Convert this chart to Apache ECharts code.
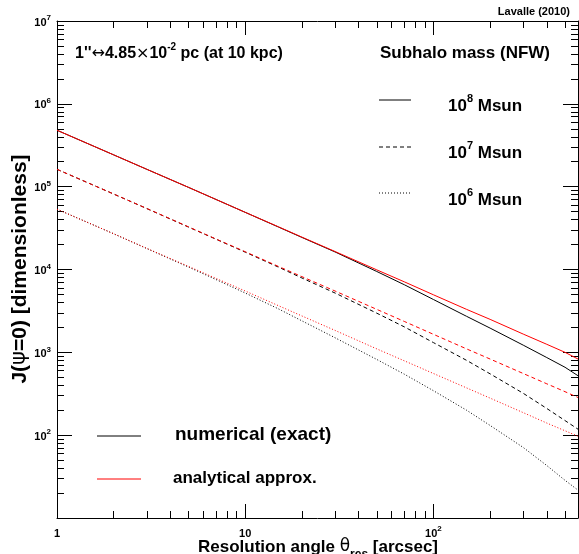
<!DOCTYPE html>
<html><head><meta charset="utf-8">
<script src="https://cdn.jsdelivr.net/npm/echarts@6/dist/echarts.min.js"></script>
<style>html,body{margin:0;padding:0;background:#fff}#c{width:579px;height:554px}</style>
</head><body><div id="c"></div>
<script>
const theta = [1, 2, 3, 5, 7, 10, 15, 20, 30, 50, 70, 100, 150, 200, 300, 400, 500, 586];
const num8 = [4.8e5, 2.42e5, 1.62e5, 9.8e4, 7.0e4, 4.9e4, 3.26e4, 2.44e4, 1.63e4, 9.46e3, 6.55e3, 4.34e3, 2.72e3, 1.96e3, 1.22e3, 8.65e2, 6.6e2, 5.22e2];
const ana8 = [4.8e5, 2.42e5, 1.62e5, 9.8e4, 7.0e4, 4.9e4, 3.28e4, 2.46e4, 1.65e4, 9.9e3, 7.1e3, 4.95e3, 3.3e3, 2.5e3, 1.66e3, 1.25e3, 1.0e3, 8.3e2];
const num7 = [1.62e5, 8.15e4, 5.44e4, 3.25e4, 2.32e4, 1.62e4, 1.07e4, 7.9e3, 5.2e3, 2.97e3, 2.03e3, 1.31e3, 8.0e2, 5.5e2, 3.2e2, 2.1e2, 1.5e2, 1.18e2];
const ana7 = [1.62e5, 8.15e4, 5.45e4, 3.27e4, 2.33e4, 1.64e4, 1.09e4, 8.2e3, 5.5e3, 3.3e3, 2.36e3, 1.65e3, 1.1e3, 8.3e2, 5.55e2, 4.17e2, 3.35e2, 2.85e2];
const num6 = [5.35e4, 2.7e4, 1.79e4, 1.07e4, 7.55e3, 5.2e3, 3.35e3, 2.4e3, 1.5e3, 8.2e2, 5.45e2, 3.44e2, 2.0e2, 1.31e2, 7.1e1, 4.3e1, 2.85e1, 2.17e1];
const ana6 = [5.35e4, 2.7e4, 1.8e4, 1.09e4, 7.8e3, 5.5e3, 3.66e3, 2.75e3, 1.84e3, 1.1e3, 7.9e2, 5.55e2, 3.72e2, 2.8e2, 1.87e2, 1.4e2, 1.13e2, 9.7e1];
const xMajor = [1, 10, 100];
const xMinor = [2,3,4,5,6,7,8,9,20,30,40,50,60,70,80,90,200,300,400,500];
const yMajor = [10, 100, 1e3, 1e4, 1e5, 1e6, 1e7];
const yMinor = [20,30,40,50,60,70,80,90,200,300,400,500,600,700,800,900,2e3,3e3,4e3,5e3,6e3,7e3,8e3,9e3,2e4,3e4,4e4,5e4,6e4,7e4,8e4,9e4,2e5,3e5,4e5,5e5,6e5,7e5,8e5,9e5,2e6,3e6,4e6,5e6,6e6,7e6,8e6,9e6];
const xLabels = [1, 10, 100];
const yLabels = [100, 1e3, 1e4, 1e5, 1e6, 1e7];

const FF = '"Liberation Sans", Arial, Helvetica, sans-serif';
const BLK = '#000';
const RED = '#ff0000';
const DASH = [4, 3];
const DOT = [1, 2];

function pow10Label(v) {
  const e = Math.round(Math.log10(v));
  if (e === 0) return '{b|1}';
  if (e === 1) return '{b|10}';
  return '{b|10}{s|' + e + '}';
}
const labRich = {
  b: {fontFamily: FF, fontWeight: 'bold', fontSize: 11, color: BLK, lineHeight: 14, verticalAlign: 'bottom'},
  s: {fontFamily: FF, fontWeight: 'bold', fontSize: 8, color: BLK, lineHeight: 14, verticalAlign: 'top'}
};

function xAx(pos, vals, len, showLine, labels) {
  return {
    type: 'log', logBase: 10, min: 1, max: 586, position: pos,
    axisLine: {show: showLine, onZero: false, lineStyle: {color: BLK, width: 1}},
    axisTick: {show: true, inside: true, length: len, customValues: vals, lineStyle: {color: BLK, width: 1}},
    axisLabel: labels ? {show: true, customValues: labels, formatter: pow10Label, rich: labRich, margin: 7} : {show: false},
    splitLine: {show: false}, minorTick: {show: false}
  };
}
function yAx(pos, vals, len, showLine, labels) {
  return {
    type: 'log', logBase: 10, min: 10, max: 1e7, position: pos,
    axisLine: {show: showLine, onZero: false, lineStyle: {color: BLK, width: 1}},
    axisTick: {show: true, inside: true, length: len, customValues: vals, lineStyle: {color: BLK, width: 1}},
    axisLabel: labels ? {show: true, customValues: labels, formatter: pow10Label, rich: labRich, margin: 6} : {show: false},
    splitLine: {show: false}, minorTick: {show: false}
  };
}
function mk(arr) { return theta.map((t, i) => [t, arr[i]]); }
function ser(name, arr, color, dash) {
  return {
    name, type: 'line', xAxisIndex: 0, yAxisIndex: 0, data: mk(arr),
    showSymbol: false, symbol: 'none', smooth: false, clip: true,
    lineStyle: {color, width: 1, type: dash || 'solid'}, silent: true
  };
}

const txt = (x, y, text, size, align, extra) => Object.assign({
  type: 'text', x, y, silent: true,
  style: {text, fill: BLK, font: 'bold ' + size + 'px ' + FF, align: align || 'left', verticalAlign: 'middle'}
}, extra || {});
function richTxt(x, y, text, size, align, supSize, rot) {
  const el = {
    type: 'text', x, y, silent: true,
    style: {
      text, align: align || 'left', verticalAlign: 'middle',
      rich: {
        b: {fontFamily: FF, fontWeight: 'bold', fontSize: size, fill: BLK, lineHeight: size + 4, verticalAlign: 'bottom'},
        g: {fontFamily: '"DejaVu Sans", sans-serif', fontWeight: 'normal', fontSize: size, fill: BLK, lineHeight: size + 4, verticalAlign: 'bottom'},
        s: {fontFamily: FF, fontWeight: 'bold', fontSize: supSize, fill: BLK, lineHeight: size + 4, verticalAlign: 'top'},
        d: {fontFamily: FF, fontWeight: 'bold', fontSize: supSize, fill: BLK, lineHeight: size + 4, verticalAlign: 'bottom', padding: [0, 0, -5, 0]}
      }
    }
  };
  if (rot) el.rotation = rot;
  return el;
}
const line = (x1, y1, x2, y2, color, dash) => ({
  type: 'line', silent: true, shape: {x1, y1, x2, y2},
  style: {stroke: color, lineWidth: 1, lineDash: dash || null}
});

const chart = echarts.init(document.getElementById('c'), null, {renderer: 'canvas'});
chart.setOption({
  animation: false,
  backgroundColor: '#fff',
  grid: {left: 57, right: 1, top: 21, bottom: 36, containLabel: false},
  xAxis: [
    xAx('bottom', xMajor, 14, true, xLabels),
    xAx('bottom', xMinor, 7, false, null),
    xAx('top', xMajor, 14, true, null),
    xAx('top', xMinor, 7, false, null)
  ],
  yAxis: [
    yAx('left', yMajor, 15, true, yLabels),
    yAx('left', yMinor, 7, false, null),
    yAx('right', yMajor, 15, true, null),
    yAx('right', yMinor, 7, false, null)
  ],
  series: [
    ser('num8', num8, BLK), ser('ana8', ana8, RED),
    ser('num7', num7, BLK, DASH), ser('ana7', ana7, RED, DASH),
    ser('num6', num6, BLK, DOT), ser('ana6', ana6, RED, DOT)
  ],
  graphic: [
    txt(570, 12, 'Lavalle (2010)', 11, 'right'),
    richTxt(75, 52, '{b|1\'\'}{g|↔}{b|4.85}{g|×}{b|10}{s|-2}{b| pc (at 10 kpc)}', 16, 'left', 10),
    txt(380, 53, 'Subhalo mass (NFW)', 17, 'left'),
    line(379, 100, 411, 100, BLK),
    line(379, 147, 411, 147, BLK, DASH),
    line(379, 193, 411, 193, BLK, DOT),
    richTxt(448, 104, '{b|10}{s|8}{b| Msun}', 17, 'left', 11),
    richTxt(448, 151, '{b|10}{s|7}{b| Msun}', 17, 'left', 11),
    richTxt(448, 198, '{b|10}{s|6}{b| Msun}', 17, 'left', 11),
    line(97, 436, 141, 436, BLK),
    line(97, 479, 141, 479, RED),
    txt(175, 435, 'numerical (exact)', 19, 'left'),
    txt(173, 478, 'analytical approx.', 17, 'left'),
    richTxt(318, 545, '{b|Resolution angle }{g|θ}{d|res}{b| [arcsec]}', 17, 'center', 12),
    richTxt(18, 269, '{b|J(}{g|ψ}{b|=0) [dimensionless]}', 21, 'center', 12, Math.PI / 2)
  ]
});
</script></body></html>
